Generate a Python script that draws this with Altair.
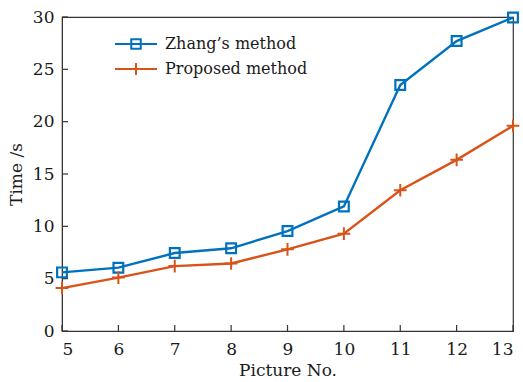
import altair as alt
import pandas as pd

pictures = [5, 6, 7, 8, 9, 10, 11, 12, 13]
zhang = [5.6, 6.05, 7.45, 7.9, 9.55, 11.9, 23.5, 27.7, 29.95]
proposed = [4.1, 5.1, 6.2, 6.45, 7.8, 9.3, 13.45, 16.35, 19.6]
x_ticks = [5, 6, 7, 8, 9, 10, 11, 12, 13]
y_ticks = [0, 5, 10, 15, 20, 25, 30]
series_names = ["Zhang\u2019s method", "Proposed method"]

BLUE = "#0072BD"
ORANGE = "#D95319"
FONT = "DejaVu Serif"
W, H = 451, 314

df = pd.DataFrame({"pic": pictures, "zhang": zhang, "proposed": proposed})
xt = pd.DataFrame({"v": x_ticks})
yt = pd.DataFrame({"v": y_ticks})

xs = alt.Scale(domain=[5, 13], nice=False, zero=False)
ys = alt.Scale(domain=[0, 30], nice=False)

base = alt.Chart(df)

xaxis = alt.Axis(values=x_ticks, format="d", tickSize=0, labelPadding=10, grid=False,
                 title="Picture No.", titlePadding=5, domainColor="#333",
                 labelFont=FONT, titleFont=FONT, labelFontSize=17, titleFontSize=17,
                 titleFontWeight="normal", labelColor="#1a1a1a", titleColor="#1a1a1a")
yaxis = alt.Axis(values=y_ticks, format="d", tickSize=0, labelPadding=8, grid=False,
                 title="Time /s", titlePadding=7, domainColor="#333",
                 labelFont=FONT, titleFont=FONT, labelFontSize=17, titleFontSize=17,
                 titleFontWeight="normal", labelColor="#1a1a1a", titleColor="#1a1a1a")

axes = base.mark_point(opacity=0).encode(
    x=alt.X("pic:Q", scale=xs, axis=xaxis),
    y=alt.Y("zhang:Q", scale=ys, axis=yaxis),
)

LW = 2.4
zl = base.mark_line(color=BLUE, strokeWidth=LW).encode(x=alt.X("pic:Q", scale=xs), y=alt.Y("zhang:Q", scale=ys))
zp = base.mark_point(shape="square", size=95, filled=False, color=BLUE, strokeWidth=2.2, opacity=1).encode(
    x=alt.X("pic:Q", scale=xs), y=alt.Y("zhang:Q", scale=ys))
pl = base.mark_line(color=ORANGE, strokeWidth=LW).encode(x=alt.X("pic:Q", scale=xs), y=alt.Y("proposed:Q", scale=ys))
PLUS = "M-1,0L1,0M0,-1L0,1"
pp = base.mark_point(shape=PLUS, size=160, filled=False, color=ORANGE, strokeWidth=2, opacity=1).encode(
    x=alt.X("pic:Q", scale=xs), y=alt.Y("proposed:Q", scale=ys))

xtick = alt.Chart(xt).mark_rule(color="#333", strokeWidth=1.2).encode(
    x=alt.X("v:Q", scale=xs), y=alt.value(H), y2=alt.value(H - 6))
ytick = alt.Chart(yt).mark_rule(color="#333", strokeWidth=1.2).encode(
    y=alt.Y("v:Q", scale=ys), x=alt.value(0), x2=alt.value(6))

leg = pd.DataFrame({"name": series_names, "row": [0, 1]})
lx0, lx1, ly0, dy = 53, 95, 27, 25
leg_z = alt.Chart(leg.iloc[[0]])
leg_p = alt.Chart(leg.iloc[[1]])
lz_line = leg_z.mark_rule(color=BLUE, strokeWidth=2).encode(x=alt.value(lx0), x2=alt.value(lx1), y=alt.value(ly0))
lz_pt = leg_z.mark_point(shape="square", size=90, filled=False, color=BLUE, strokeWidth=2, opacity=1).encode(
    x=alt.value((lx0 + lx1) / 2), y=alt.value(ly0))
lz_txt = leg_z.mark_text(align="left", baseline="middle", font=FONT, fontSize=16, color="#1a1a1a").encode(
    x=alt.value(lx1 + 8), y=alt.value(ly0), text="name:N")
lp_line = leg_p.mark_rule(color=ORANGE, strokeWidth=2).encode(x=alt.value(lx0), x2=alt.value(lx1), y=alt.value(ly0 + dy))
lp_pt = leg_p.mark_point(shape=PLUS, size=150, filled=False, color=ORANGE, strokeWidth=2, opacity=1).encode(
    x=alt.value((lx0 + lx1) / 2), y=alt.value(ly0 + dy))
lp_txt = leg_p.mark_text(align="left", baseline="middle", font=FONT, fontSize=16, color="#1a1a1a").encode(
    x=alt.value(lx1 + 8), y=alt.value(ly0 + dy), text="name:N")

chart = alt.layer(axes, xtick, ytick, zl, pl, zp, pp,
                  lz_line, lz_pt, lz_txt, lp_line, lp_pt, lp_txt).properties(
    width=W, height=H,
    autosize=alt.AutoSizeParams(type="none"),
    padding={"left": 62, "top": 17, "right": 10, "bottom": 51},
    background="white",
).configure_view(stroke="#333", strokeWidth=1.2)

chart.save("out.html", embed_options={"renderer": "svg", "actions": False})
